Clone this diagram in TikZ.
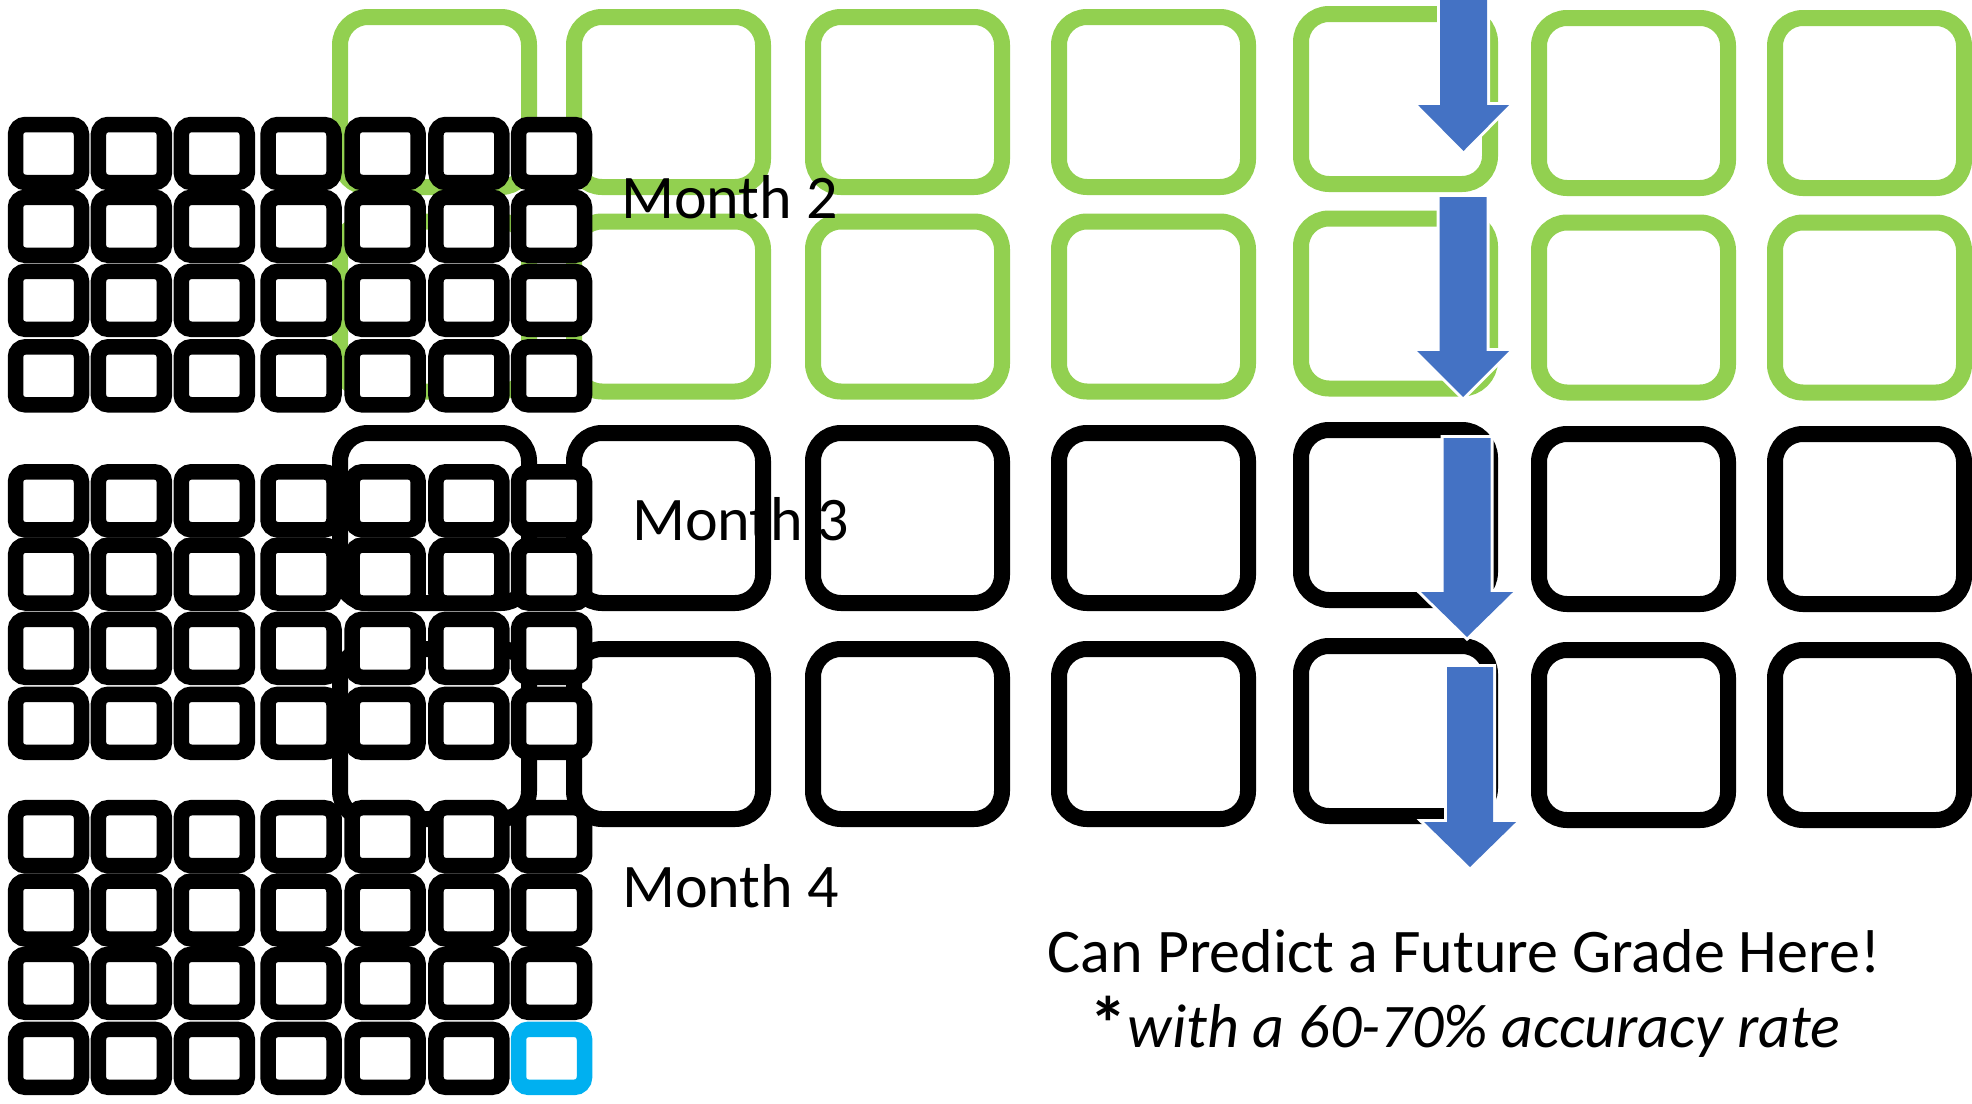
\documentclass[tikz,border=0pt]{standalone}
\usepackage{fontspec}
\setmainfont{Carlito}
\definecolor{pgreen}{HTML}{92D050}
\definecolor{pblue}{HTML}{4472C4}
\definecolor{pcyan}{HTML}{00B0F0}
\begin{document}
\begin{tikzpicture}[x=1pt,y=-1pt,
  bigbox/.style={draw, line width=16pt, rounded corners=28pt, minimum width=189pt, minimum height=170pt, inner sep=0pt, outer sep=0pt},
  smallbox/.style={draw=black, fill=white, line width=15.5pt, rounded corners=10pt, minimum width=66pt, minimum height=58pt, inner sep=0pt, outer sep=0pt},
  txt/.style={font=\fontsize{62}{74}\selectfont, inner sep=0pt, anchor=base west},
  arrowst/.style={draw=white, line width=6pt, line join=miter, postaction={fill=pblue}}]
\useasboundingbox (0,0) rectangle (1972,1103);
% big boxes
\foreach \c/\x/\dy in {1/434.5/0, 2/668.5/0, 3/907.5/0, 4/1153.5/0, 5/1395.5/-3, 6/1633.5/1, 7/1869.5/1} {
  \foreach \r/\y/\col in {1/102/pgreen, 2/306.5/pgreen, 3/518/black, 4/734/black} {
    \node[bigbox, draw=\col] (b\r\c) at (\x,\y+\dy) {};
  }
}
% texts
\node[txt] (m2) at (621,218) {Month 2};
\node[txt] (m3) at (632,540) {Month 3};
\node[txt] (m4) at (622,907) {Month 4};
\node[txt, anchor=base] (pred) at (1464,972) {Can Predict a Future Grade Here!};
\node[txt, anchor=base] (acc) at (1465,1047) {\raisebox{-0.06em}{\bfseries\fontsize{76}{76}\selectfont *}\textit{with a 60-70\% accuracy rate}};
% small boxes
\foreach \c/\x in {1/48.5, 2/131.4, 3/214.3, 4/301, 5/385.2, 6/468.9, 7/551.5} {
  \foreach \r/\y in {1/153.5, 2/226.3, 3/300.3, 4/375.8} {
    \node[smallbox] (sa\r\c) at (\x,\y) {};
  }
  \foreach \r/\y in {1/500.8, 2/574, 3/648.3, 4/723.3} {
    \node[smallbox] (sb\r\c) at (\x,\y) {};
  }
  \foreach \r/\y in {1/836.7, 2/910, 3/983.3} {
    \node[smallbox] (sc\r\c) at (\x,\y) {};
  }
}
\foreach \c/\x in {1/48.5, 2/131.4, 3/214.3, 4/301, 5/385.2, 6/468.9} {
  \node[smallbox] (sc4\c) at (\x,1058.3) {};
}
\node[smallbox, draw=pcyan] (sc47) at (551.5,1058.3) {};
% arrows
\path[arrowst] (1440,-10) -- (1440,105) -- (1418,105) -- (1463.5,151) -- (1509,105) -- (1487,105) -- (1487,-10) -- cycle;
\path[arrowst] (1439.5,197) -- (1439.5,351) -- (1417,351) -- (1463,397) -- (1509,351) -- (1486.5,351) -- (1486.5,197) -- cycle;
\path[arrowst] (1443.5,438) -- (1443.5,592) -- (1421,592) -- (1467,637) -- (1513,592) -- (1490.5,592) -- (1490.5,438) -- cycle;
\path[arrowst] (1447,667) -- (1447,822) -- (1424,822) -- (1470,867) -- (1516,822) -- (1493,822) -- (1493,667) -- cycle;
\end{tikzpicture}
\end{document}
